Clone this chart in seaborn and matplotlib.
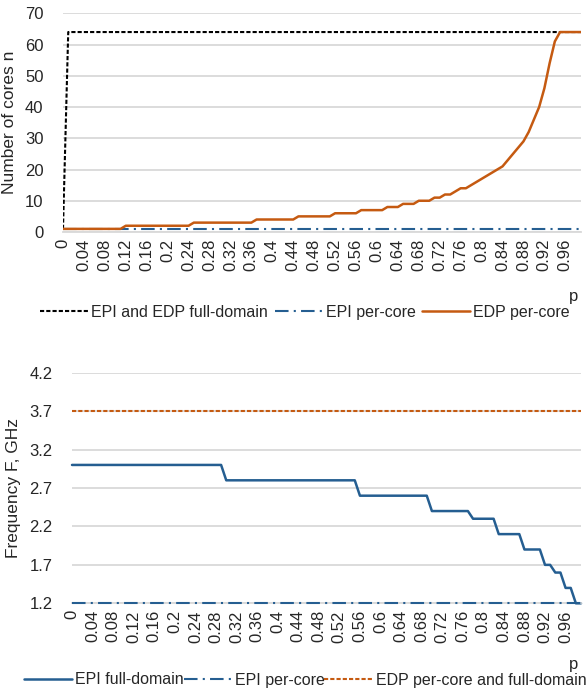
import numpy as np
import pandas as pd
import seaborn as sns
import matplotlib
import matplotlib.pyplot as plt
from matplotlib.lines import Line2D

matplotlib.use('Agg')

# categories: p = 0, 0.01, ..., 0.99
p = np.round(np.arange(100) * 0.01, 2)
tick_labels = ["0", "0.04", "0.08", "0.12", "0.16", "0.2", "0.24", "0.28", "0.32",
               "0.36", "0.4", "0.44", "0.48", "0.52", "0.56", "0.6", "0.64", "0.68",
               "0.72", "0.76", "0.8", "0.84", "0.88", "0.92", "0.96"]

# number of cores n
full_domain_cores = [1] + [64] * 99
epi_core_cores = [1] * 100
edp_core_cores = [1, 1, 1, 1, 1, 1, 1, 1, 1, 1, 1, 1,
                  2, 2, 2, 2, 2, 2, 2, 2, 2, 2, 2, 2, 2,
                  3, 3, 3, 3, 3, 3, 3, 3, 3, 3, 3, 3,
                  4, 4, 4, 4, 4, 4, 4, 4,
                  5, 5, 5, 5, 5, 5, 5,
                  6, 6, 6, 6, 6,
                  7, 7, 7, 7, 7,
                  8, 8, 8, 9, 9, 9, 10, 10, 10, 11, 11, 12, 12, 13, 14, 14,
                  15, 16, 17, 18, 19, 20, 21, 23, 25, 27, 29,
                  32, 36, 40, 46, 54, 61, 64, 64, 64, 64, 64]

# frequency F, GHz
epi_full_freq = [3.0] * 30 + [2.8] * 26 + [2.6] * 14 + [2.4] * 8 + [2.3] * 5 + \
                [2.1] * 5 + [1.9] * 4 + [1.7, 1.7, 1.6, 1.6, 1.4, 1.4, 1.2, 1.2]
epi_core_freq = [1.2] * 100
edp_freq = [3.7] * 100

sns.set_style("white")
plt.rcParams['font.family'] = ['Liberation Sans', 'DejaVu Sans']
plt.rcParams['font.size'] = 12

orange = '#C55A11'
blue = '#255E91'
grid = '#D9D9D9'
dashdot = (6.5, 2.5, 1, 2.5)

fig = plt.figure(figsize=(5.88, 6.93), dpi=100)
x = np.arange(len(p))


def style_axis(ax, yticks, ylabels, ylabel, ypad):
    ax.set_xlim(0, 99)
    ax.set_ylim(yticks[0], yticks[-1])
    ax.set_yticks(yticks)
    ax.set_yticklabels(ylabels)
    ax.set_xticks(x[::4])
    ax.set_xticklabels(tick_labels, rotation=90)
    ax.tick_params(axis='both', length=0, labelsize=12)
    ax.tick_params(axis='x', pad=5)
    ax.tick_params(axis='y', pad=ypad)
    ax.yaxis.grid(True, color=grid, lw=1.3)
    for s in ['top', 'right', 'left']:
        ax.spines[s].set_visible(False)
    ax.spines['bottom'].set_color(grid)
    ax.spines['bottom'].set_linewidth(1.3)
    ax.set_ylabel(ylabel, fontsize=12.5, labelpad=6)
    ax.set_xlabel("")
    ax.set_axisbelow(True)


# --- top chart: number of cores ---
ax1 = fig.add_axes([63 / 588, 1 - 232 / 693, 518 / 588, 218.7 / 693])
df1 = pd.DataFrame({"x": x, "full": full_domain_cores, "epi": epi_core_cores, "edp": edp_core_cores})
sns.lineplot(data=df1, x="x", y="full", ax=ax1, color='black', lw=1.5)
ax1.lines[-1].set_dashes((2, 1))
sns.lineplot(data=df1, x="x", y="epi", ax=ax1, color=blue, lw=1.5)
ax1.lines[-1].set_dashes(dashdot)
sns.lineplot(data=df1, x="x", y="edp", ax=ax1, color=orange, lw=1.8)
style_axis(ax1, list(range(0, 71, 10)), [str(v) for v in range(0, 71, 10)],
           "Number of cores n", 14)
fig.text(578 / 588, 1 - 296 / 693, "p", ha='right', va='center', fontsize=12)

h1 = [Line2D([], [], color='black', lw=1.5, dashes=(2, 1)),
      Line2D([], [], color=blue, lw=1.5, dashes=dashdot),
      Line2D([], [], color=orange, lw=1.8)]
fig.legend(h1, ["EPI and EDP full-domain", "EPI per-core", "EDP per-core"],
           loc='center', bbox_to_anchor=(305 / 588, 1 - 312 / 693), ncol=3, frameon=False,
           fontsize=11.5, handlelength=3.0, handletextpad=0.2, columnspacing=0.4)

# --- bottom chart: frequency ---
ax2 = fig.add_axes([72 / 588, 1 - 603.3 / 693, 509 / 588, 230.6 / 693])
df2 = pd.DataFrame({"x": x, "epi_full": epi_full_freq, "epi_core": epi_core_freq, "edp": edp_freq})
sns.lineplot(data=df2, x="x", y="epi_full", ax=ax2, color=blue, lw=1.8)
ax2.lines[-1].set_clip_on(False)
sns.lineplot(data=df2, x="x", y="epi_core", ax=ax2, color=blue, lw=1.5)
ax2.lines[-1].set_dashes(dashdot)
ax2.lines[-1].set_clip_on(False)
ax2.lines[-1].set_zorder(5)
sns.lineplot(data=df2, x="x", y="edp", ax=ax2, color=orange, lw=1.5)
ax2.lines[-1].set_dashes((2, 1))
fticks = [1.2, 1.7, 2.2, 2.7, 3.2, 3.7, 4.2]
style_axis(ax2, fticks, [f"{v:.1f}" for v in fticks], "Frequency F, GHz", 14)
fig.text(578 / 588, 1 - 664 / 693, "p", ha='right', va='center', fontsize=12)

h2 = [Line2D([], [], color=blue, lw=1.8),
      Line2D([], [], color=blue, lw=1.5, dashes=dashdot),
      Line2D([], [], color=orange, lw=1.5, dashes=(2, 1))]
fig.legend(h2, ["EPI full-domain", "EPI per-core", "EDP per-core and full-domain"],
           loc='center', bbox_to_anchor=(305 / 588, 1 - 680 / 693), ncol=3, frameon=False,
           fontsize=11.5, handlelength=3.0, handletextpad=0.2, columnspacing=0.0,
           borderpad=0.1, borderaxespad=0.0)

plt.savefig("out.png", dpi=100)
plt.close()
